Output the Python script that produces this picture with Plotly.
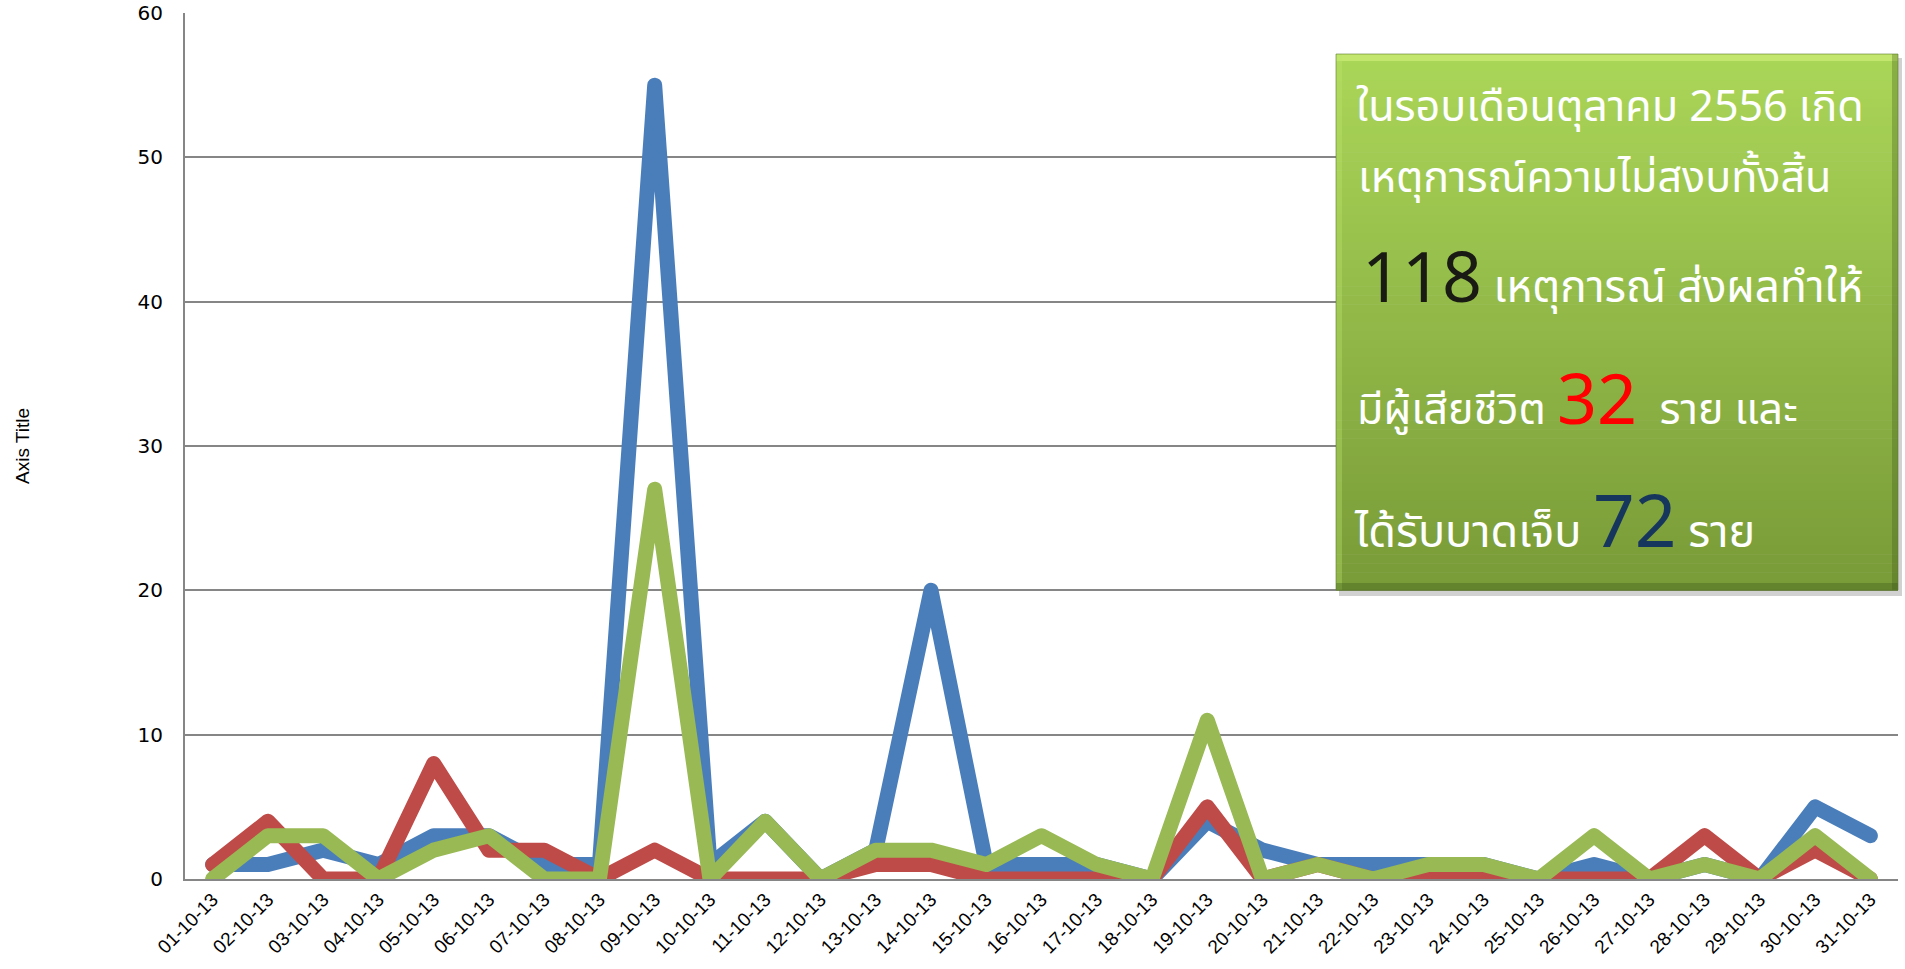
import plotly.graph_objects as go

dates = ["01-10-13","02-10-13","03-10-13","04-10-13","05-10-13","06-10-13","07-10-13","08-10-13",
         "09-10-13","10-10-13","11-10-13","12-10-13","13-10-13","14-10-13","15-10-13","16-10-13",
         "17-10-13","18-10-13","19-10-13","20-10-13","21-10-13","22-10-13","23-10-13","24-10-13",
         "25-10-13","26-10-13","27-10-13","28-10-13","29-10-13","30-10-13","31-10-13"]
incidents = [1,1,2,1,3,3,1,1,55,1,4,0,2,20,1,1,1,0,4,2,1,1,1,1,0,1,0,1,0,5,3]
deaths    = [1,4,0,0,8,2,2,0,2,0,0,0,1,1,0,0,0,0,5,0,1,0,0,0,0,0,0,3,0,2,0]
injured   = [0,3,3,0,2,3,0,0,27,0,4,0,2,2,1,3,1,0,11,0,1,0,1,1,0,3,0,1,0,3,0]
y_ticks = [0,10,20,30,40,50,60]

W, H = 1905, 969
L, R, T, B = 185, 7, 13, 90
PW, PH = W - L - R, H - T - B

def px(x):
    return (x - L) / PW

def py(y):
    return (H - B - y) / PH

fig = go.Figure()
series = [(incidents, "#4A7EBB", "เหตุการณ์"), (deaths, "#BE4B48", "เสียชีวิต"), (injured, "#98B954", "บาดเจ็บ")]
for vals, col, nm in series:
    fig.add_trace(go.Scatter(x=dates, y=vals, mode="lines", name=nm,
                             line=dict(color=col, width=15), showlegend=False,
                             hoverinfo="x+y"))

shapes = []
bx0, bx1, by0, by1 = 1336, 1898, 54, 590
shapes.append(dict(type="rect", xref="paper", yref="paper", x0=px(bx0+3), x1=px(bx1+4), y0=py(by1+6), y1=py(by0+4),
                   fillcolor="rgba(0,0,0,0.18)", line=dict(width=0), layer="above"))
n = 60
top = (170, 214, 88)
bot = (121, 155, 56)
for i in range(n):
    f = i / (n - 1)
    c = tuple(int(round(top[k] + (bot[k] - top[k]) * f)) for k in range(3))
    ya = by0 + (by1 - by0) * i / n
    yb = by0 + (by1 - by0) * (i + 1) / n
    shapes.append(dict(type="rect", xref="paper", yref="paper", x0=px(bx0), x1=px(bx1),
                       y0=py(yb + 0.6), y1=py(ya), fillcolor="rgb(%d,%d,%d)" % c,
                       line=dict(width=0), layer="above"))
shapes.append(dict(type="rect", xref="paper", yref="paper", x0=px(bx0), x1=px(bx1), y0=py(by0+7), y1=py(by0),
                   fillcolor="rgba(215,245,130,0.55)", line=dict(width=0), layer="above"))
shapes.append(dict(type="rect", xref="paper", yref="paper", x0=px(bx0), x1=px(bx0+6), y0=py(by1), y1=py(by0),
                   fillcolor="rgba(190,230,110,0.35)", line=dict(width=0), layer="above"))
shapes.append(dict(type="rect", xref="paper", yref="paper", x0=px(bx0), x1=px(bx1), y0=py(by1), y1=py(by1-7),
                   fillcolor="rgba(60,85,25,0.35)", line=dict(width=0), layer="above"))
shapes.append(dict(type="rect", xref="paper", yref="paper", x0=px(bx1-6), x1=px(bx1), y0=py(by1), y1=py(by0),
                   fillcolor="rgba(60,85,25,0.3)", line=dict(width=0), layer="above"))
shapes.append(dict(type="rect", xref="paper", yref="paper", x0=px(bx0), x1=px(bx1), y0=py(by1), y1=py(by0),
                   fillcolor="rgba(0,0,0,0)", line=dict(width=1, color="rgba(90,120,40,0.6)"), layer="above"))

thai = "Noto Sans Thai, Noto Sans Thai Looped, Leelawadee UI, Tahoma, sans-serif"
lines = [
    (1354, 108, 43, "ในรอบเดือนตุลาคม 2556 เกิด"),
    (1356, 179, 43, "เหตุการณ์ความไม่สงบทั้งสิ้น"),
    (1360, 281, 44, '<span style="font-size:70px;color:#1A1A14">118</span> เหตุการณ์ ส่งผลทำให้'),
    (1355, 403, 43, 'มีผู้เสียชีวิต <span style="font-size:70px;color:#FF0000">32</span>  ราย และ'),
    (1352, 525, 45, 'ได้รับบาดเจ็บ <span style="font-size:73px;color:#17365D">72</span> ราย'),
]
annotations = []
for x, y, s, t in lines:
    annotations.append(dict(xref="paper", yref="paper", x=px(x), y=py(y), xanchor="left", yanchor="middle",
                            text=t, showarrow=False, align="left",
                            font=dict(family=thai, size=s, color="white")))
annotations.append(dict(xref="paper", yref="paper", x=px(22), y=py(446), xanchor="center", yanchor="middle",
                        text="Axis Title", textangle=-90, showarrow=False,
                        font=dict(family="Liberation Sans Narrow, Liberation Sans, sans-serif", size=19, color="#000000")))

fig.update_layout(
    width=W, height=H, margin=dict(l=L, r=R, t=T, b=B, autoexpand=False),
    paper_bgcolor="white", plot_bgcolor="white",
    shapes=shapes, annotations=annotations,
    xaxis=dict(type="category", range=[-0.5, len(dates) - 0.5], tickangle=-45, automargin=False,
               tickfont=dict(family="Liberation Sans, sans-serif", size=19, color="#000000"),
               showgrid=False, showline=True, linecolor="#868686", linewidth=2,
               ticks="", zeroline=False),
    yaxis=dict(range=[0, 60], tickvals=y_ticks, ticktext=[str(v) for v in y_ticks], automargin=False,
               tickfont=dict(family="DejaVu Sans, sans-serif", size=20, color="#000000"),
               showgrid=True, gridcolor="#868686", gridwidth=1.5,
               showline=True, linecolor="#868686", linewidth=2, ticks="", ticklabelstandoff=16,
               zeroline=False),
)

post = (
    "document.body.style.margin='0px';document.body.style.overflow='hidden';"
    "var st=document.createElement('style');"
    "st.textContent='.scatterlayer .js-line{stroke-linejoin:round !important;stroke-linecap:round !important;}';"
    "document.head.appendChild(st);"
)
fig.write_html("out.html", config={"displayModeBar": False}, post_script=post)
